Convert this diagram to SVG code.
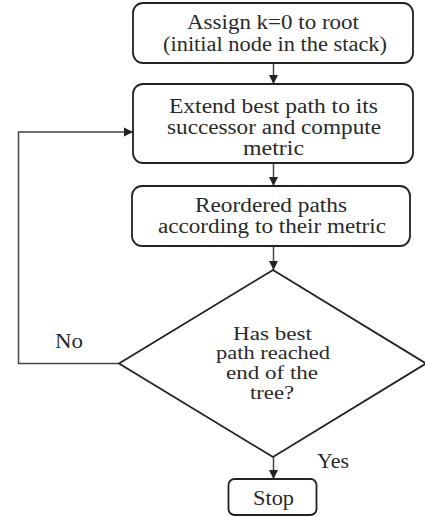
<svg xmlns="http://www.w3.org/2000/svg" width="425" height="517" viewBox="0 0 425 517">
<style>
.box{fill:#fff;stroke:#222;stroke-width:1.8}
.t{font-family:'Liberation Serif','Times New Roman',serif;font-size:20px;fill:#2a2a2a;text-anchor:middle}
.d{font-size:19px}
.tl{font-family:'Liberation Serif','Times New Roman',serif;font-size:20px;fill:#2a2a2a}
.c{fill:none;stroke:#444;stroke-width:1.5}
</style>
<defs>
<marker id="ah" viewBox="0 0 10 10" refX="10" refY="5" markerWidth="9" markerHeight="10" markerUnits="userSpaceOnUse" orient="auto">
<path d="M0,0 L10,5 L0,10 z" fill="#222"/>
</marker>
</defs>
<rect width="425" height="517" fill="#fff"/>
<g id="connectors">
<line class="c" x1="273.5" y1="63" x2="273.5" y2="84" marker-end="url(#ah)"/>
<line class="c" x1="273.5" y1="163" x2="273.5" y2="186" marker-end="url(#ah)"/>
<line class="c" x1="273.5" y1="246" x2="273.5" y2="270" marker-end="url(#ah)"/>
<line class="c" x1="273.5" y1="457" x2="273.5" y2="479" marker-end="url(#ah)"/>
<polyline class="c" points="119,363.5 18.5,363.5 18.5,132 133,132" marker-end="url(#ah)"/>
</g>
<g id="n1">
<rect class="box" x="133" y="3" width="280" height="60" rx="10"/>
<text class="t" x="273" y="29" textLength="172" lengthAdjust="spacingAndGlyphs">Assign k=0 to root</text>
<text class="t" x="275" y="51" textLength="224" lengthAdjust="spacingAndGlyphs">(initial node in the stack)</text>
</g>
<g id="n2">
<rect class="box" x="133" y="84" width="280" height="79" rx="10"/>
<text class="t" x="273.5" y="113" textLength="209" lengthAdjust="spacingAndGlyphs">Extend best path to its</text>
<text class="t" x="274" y="134" textLength="214" lengthAdjust="spacingAndGlyphs">successor and compute</text>
<text class="t" x="273.5" y="155" textLength="61" lengthAdjust="spacingAndGlyphs">metric</text>
</g>
<g id="n3">
<rect class="box" x="132" y="186" width="278" height="60" rx="10"/>
<text class="t" x="271" y="212" textLength="152" lengthAdjust="spacingAndGlyphs">Reordered paths</text>
<text class="t" x="272" y="233" textLength="228" lengthAdjust="spacingAndGlyphs">according to their metric</text>
</g>
<g id="n4">
<polygon class="box" points="273,270 426,363.5 273,457 119,363.5"/>
<text class="t d" x="272.5" y="340" textLength="79" lengthAdjust="spacingAndGlyphs">Has best</text>
<text class="t d" x="273" y="359" textLength="114" lengthAdjust="spacingAndGlyphs">path reached</text>
<text class="t d" x="272" y="379" textLength="92" lengthAdjust="spacingAndGlyphs">end of the</text>
<text class="t d" x="272" y="399" textLength="44" lengthAdjust="spacingAndGlyphs">tree?</text>
</g>
<g id="n5">
<rect class="box" x="228.5" y="479" width="88" height="36" rx="6"/>
<text class="t" x="273.5" y="505" textLength="41" lengthAdjust="spacingAndGlyphs">Stop</text>
</g>
<g id="labels">
<text class="tl" x="55" y="348" textLength="28" lengthAdjust="spacingAndGlyphs">No</text>
<text class="tl" x="317" y="468" textLength="32" lengthAdjust="spacingAndGlyphs">Yes</text>
</g>
</svg>
